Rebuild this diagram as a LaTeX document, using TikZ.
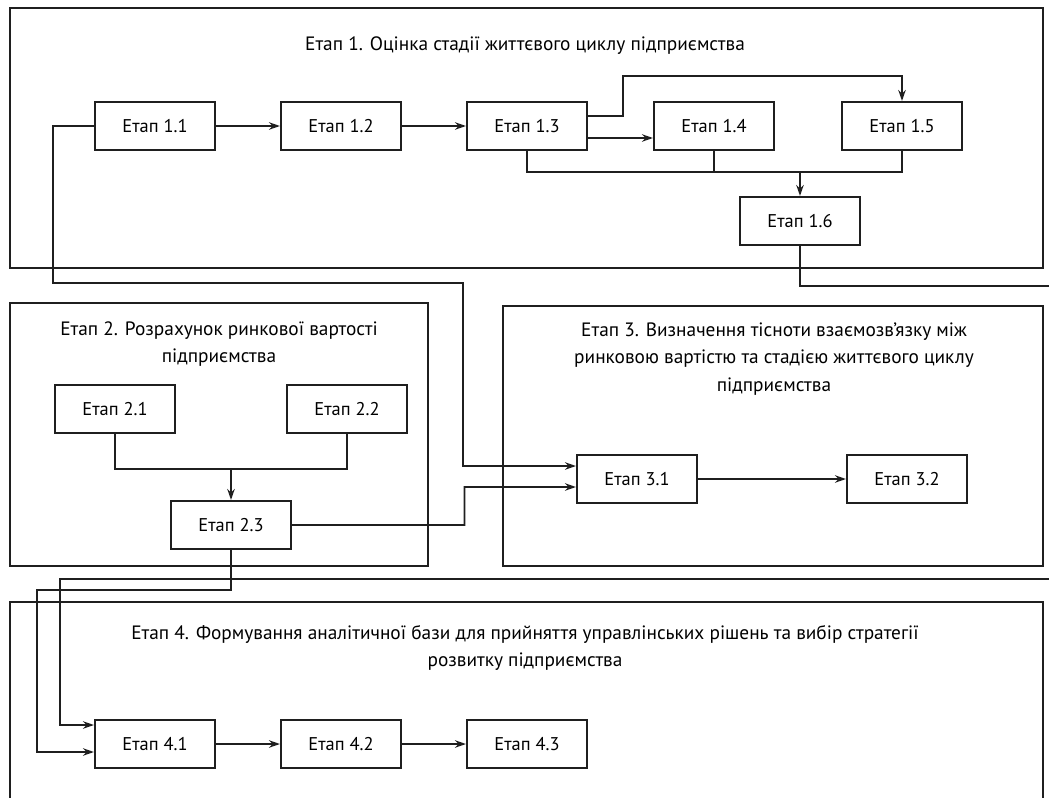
\documentclass[tikz,border=0pt]{standalone}
\usepackage{fontspec}
\setmainfont{PT Sans}
\usetikzlibrary{arrows.meta}
\tikzset{
  frame/.style={draw=black!88, line width=1.5pt},
  stage/.style={draw=black!88, line width=1.2pt, fill=white, minimum width=2.4cm, minimum height=0.96cm, inner sep=0pt, font=\fontsize{10.5}{12}\selectfont},
  stagetitle/.style={align=center, inner sep=0pt, font=\fontsize{11}{15.5}\selectfont},
  link/.style={line width=1pt, draw=black!88},
  linkarrow/.style={link, -{Stealth[length=2.2mm,width=1.5mm]}},
}

\begin{document}
\begin{tikzpicture}[x=0.02cm, y=-0.02cm]
\useasboundingbox (0,0) rectangle (1049,798);
\clip (0,0) rectangle (1049,798);
% frames
\draw[frame] (10,8) rectangle (1043,268);
\draw[frame] (10,303) rectangle (428,566);
\draw[frame] (503,306) rectangle (1043,566);
\draw[frame] (10,602) rectangle (1043,830);
\node[stagetitle] (t1) at (525,46) {Етап 1. Оцінка стадії життєвого циклу підприємства};
\node[stagetitle] (t2) at (219,344) {Етап 2. Розрахунок ринкової вартості\\підприємства};
\node[stagetitle] (t3) at (774,359) {Етап 3. Визначення тісноти взаємозв’язку між\\ринковою вартістю та стадією життєвого циклу\\підприємства};
\node[stagetitle] (t4) at (525,648) {Етап 4. Формування аналітичної бази для прийняття управлінських рішень та вибір стратегії\\розвитку підприємства};
% stage 1
\node[stage] (s11) at (155,126) {Етап 1.1};
\node[stage] (s12) at (341,126) {Етап 1.2};
\node[stage] (s13) at (527,126) {Етап 1.3};
\node[stage] (s14) at (714,126) {Етап 1.4};
\node[stage] (s15) at (902,126) {Етап 1.5};
\node[stage] (s16) at (800,221) {Етап 1.6};
% stage 2
\node[stage] (s21) at (115,409) {Етап 2.1};
\node[stage] (s22) at (347,409) {Етап 2.2};
\node[stage] (s23) at (231,525) {Етап 2.3};
% stage 3
\node[stage] (s31) at (637,479) {Етап 3.1};
\node[stage] (s32) at (907,479) {Етап 3.2};
% stage 4
\node[stage] (s41) at (155,744) {Етап 4.1};
\node[stage] (s42) at (341,744) {Етап 4.2};
\node[stage] (s43) at (527,744) {Етап 4.3};
% links
\coordinate (c1) at (800,172);
\coordinate (c2) at (231,469);
\coordinate (k1) at (463,283);
\draw[linkarrow] (s11) -- (s12);
\draw[linkarrow] (s12) -- (s13);
\draw[linkarrow] ([yshift=0.2cm]s13.east) -| (623,76) -| (s15.north);
\draw[linkarrow] ([yshift=-0.24cm]s13.east) -- ([yshift=-0.24cm]s14.west);
\draw[link] (s13.south) |- (c1) -| (s15.south);
\draw[link] (s14.south) -- (s14.south |- c1);
\draw[linkarrow] (c1) -- (s16.north);
\draw[link] (s21.south) |- (c2) -| (s22.south);
\draw[linkarrow] (c2) -- (s23.north);
\draw[linkarrow] (s11.west) -| (53,283) -- (k1) |- ([yshift=0.26cm]s31.west);
\draw[linkarrow] (s23.east) -| (464.5,487) -- ([yshift=-0.16cm]s31.west);
\draw[linkarrow] (s31) -- (s32);
\draw[linkarrow] (s16.south) |- (1080,286) |- (60,579) |- ([yshift=0.38cm]s41.west);
\draw[linkarrow] (s23.south) |- (37,590) |- ([yshift=-0.16cm]s41.west);
\draw[linkarrow] (s41) -- (s42);
\draw[linkarrow] (s42) -- (s43);
\end{tikzpicture}
\end{document}
